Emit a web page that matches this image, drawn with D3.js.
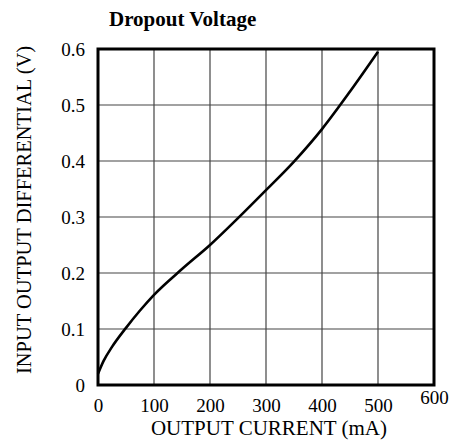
<!DOCTYPE html>
<html>
<head>
<meta charset="utf-8">
<script src="https://cdn.jsdelivr.net/npm/d3@7"></script>
</head>
<body style="margin:0;padding:0;background:#fff">
<svg id="chart" width="451" height="443"></svg>
<script>
// Data
const currentMA = [0, 10, 25, 50, 75, 100, 150, 200, 250, 300, 350, 400, 450, 500];
const dropoutV  = [0.02, 0.043, 0.068, 0.102, 0.133, 0.161, 0.207, 0.25, 0.298, 0.348, 0.399, 0.457, 0.524, 0.595];
const xTicks = [0, 100, 200, 300, 400, 500, 600];
const yTicks = [0, 0.1, 0.2, 0.3, 0.4, 0.5, 0.6];
const titleText = "Dropout Voltage";
const xTitle = "OUTPUT CURRENT (mA)";
const yTitle = "INPUT OUTPUT DIFFERENTIAL (V)";

const FONT = '"Liberation Serif", "Times New Roman", serif';
const svg = d3.select("#chart");
const pLeft = 98, pRight = 434, pTop = 49, pBottom = 385;

const x = d3.scaleLinear().domain([0, 600]).range([pLeft, pRight]);
const y = d3.scaleLinear().domain([0, 0.6]).range([pBottom, pTop]);

// gridlines
svg.append("g").selectAll("line").data(xTicks.slice(1, -1)).join("line")
  .attr("x1", d => x(d)).attr("x2", d => x(d))
  .attr("y1", pTop).attr("y2", pBottom)
  .attr("stroke", "#444").attr("stroke-width", 1.2);
svg.append("g").selectAll("line").data(yTicks.slice(1, -1)).join("line")
  .attr("y1", d => y(d)).attr("y2", d => y(d))
  .attr("x1", pLeft).attr("x2", pRight)
  .attr("stroke", "#444").attr("stroke-width", 1.2);

// curve
const line = d3.line().x((d, i) => x(currentMA[i])).y(d => y(d)).curve(d3.curveMonotoneX);
svg.append("path").datum(dropoutV)
  .attr("d", line).attr("fill", "none")
  .attr("stroke", "#000").attr("stroke-width", 2.6);

// frame
svg.append("rect")
  .attr("x", pLeft).attr("y", pTop)
  .attr("width", pRight - pLeft).attr("height", pBottom - pTop)
  .attr("fill", "none").attr("stroke", "#000").attr("stroke-width", 3);

// axes (labels only)
const xAxis = d3.axisBottom(x).tickValues(xTicks).tickSize(0).tickPadding(0)
  .tickFormat(d3.format("d"));
const gx = svg.append("g").attr("transform", `translate(0,${pBottom})`).call(xAxis);
gx.select(".domain").remove();
gx.selectAll("text")
  .style("font-family", FONT).style("font-size", "19px").attr("fill", "#000")
  .attr("dy", null)
  .attr("y", d => d === 600 ? 18.5 : 27);

const yAxis = d3.axisLeft(y).tickValues(yTicks).tickSize(0).tickPadding(13)
  .tickFormat(d => d === 0 ? "0" : d3.format(".1f")(d));
const gy = svg.append("g").attr("transform", `translate(${pLeft},0)`).call(yAxis);
gy.select(".domain").remove();
gy.selectAll("text")
  .style("font-family", FONT).style("font-size", "19px").attr("fill", "#000")
  .attr("dy", "0.33em");

// titles
svg.append("text").attr("x", 109).attr("y", 26)
  .style("font-family", FONT).style("font-size", "21px").style("font-weight", "bold")
  .text(titleText);
svg.append("text").attr("x", 269).attr("y", 435)
  .attr("text-anchor", "middle")
  .style("font-family", FONT).style("font-size", "21px")
  .text(xTitle);
svg.append("text")
  .attr("transform", "translate(31,210) rotate(-90)")
  .attr("text-anchor", "middle")
  .style("font-family", FONT).style("font-size", "20.5px")
  .text(yTitle);
</script>
</body>
</html>
